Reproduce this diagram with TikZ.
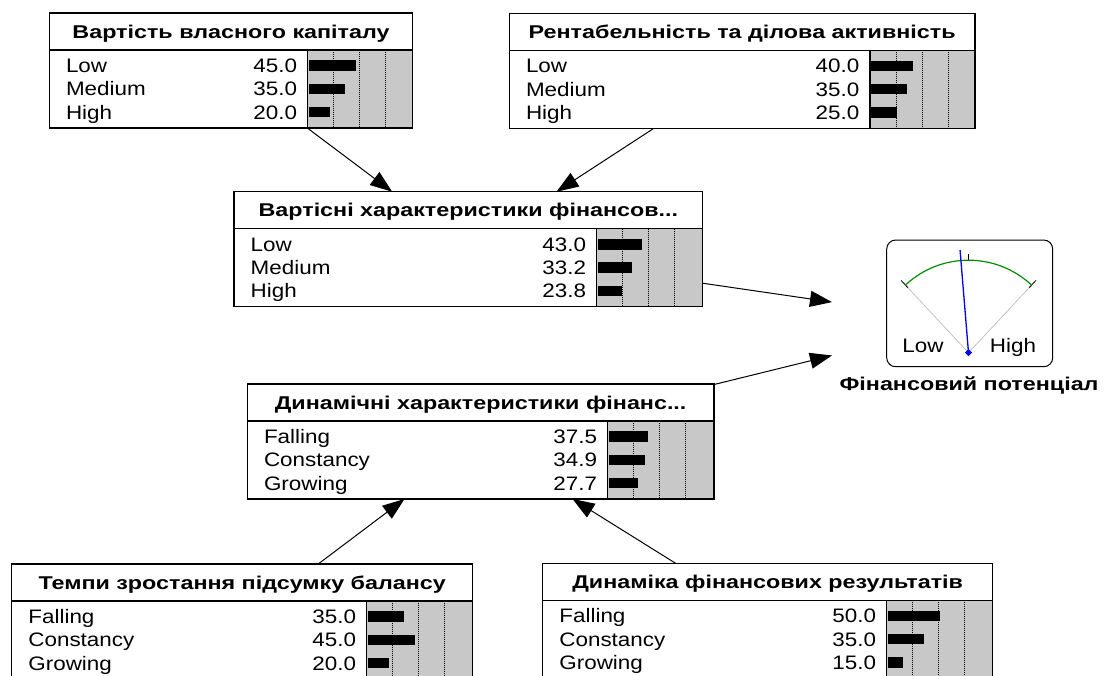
\documentclass[tikz,border=0pt]{standalone}
\usepackage{fontspec}
\setmainfont{Liberation Sans}[FakeStretch=1.15]
\newfontfamily\netTitleFamily{Liberation Sans}[FakeStretch=1.26]
\usetikzlibrary{arrows.meta,calc}

\definecolor{barGray}{RGB}{200,200,200}
\definecolor{rayGray}{RGB}{195,195,195}
\definecolor{arcGreen}{RGB}{0,140,0}

\newcommand\netRowFont{\fontsize{19.5pt}{22pt}\selectfont}
\newcommand\netTitleFont{\netTitleFamily\fontsize{18.5pt}{21pt}\selectfont\bfseries}

\tikzset{
  frameline/.style={line width=1.2pt, draw=black},
  gridline/.style={densely dotted, line width=1pt},
  rowtext/.style={inner sep=0pt, font=\netRowFont},
  titletext/.style={inner sep=0pt, font=\netTitleFont},
  hub/.style={inner sep=0pt, outer sep=0pt},
  link/.style={line width=1pt, -{Triangle[length=22pt,width=16pt]}},
}

% one network node: name, left, top, right, start of the bar area, title
\newcommand\netbox[6]{%
  \def\bxL{#2}\def\bxG{#5}%
  \pgfmathsetmacro\bxH{#3+37}%
  \pgfmathsetmacro\bxB{#3+115}%
  \pgfmathsetmacro\bxW{#4-#2}%
  \node[hub, minimum width=\bxW pt, minimum height=115pt, anchor=north west] (#1) at (#2,#3) {};
  \fill[white] (#2,#3) rectangle (#4,\bxB);
  \fill[barGray] (#5,\bxH) rectangle (#4,\bxB);
  \foreach \p in {25,50,75} \draw[gridline] (#5+\p*1.04,\bxH) -- (#5+\p*1.04,\bxB);
  \draw[frameline] (#2,#3) rectangle (#4,\bxB);
  \draw[frameline] (#2,\bxH) -- (#4,\bxH);
  \draw[frameline] (#5,\bxH) -- (#5,\bxB);
  \node[titletext, anchor=base] (#1-t) at ({(#2+#4)/2},{#3+25.1}) {#6};
}

% one state row: box name, index, label, value, percentage
\newcommand\netrow[5]{%
  \pgfmathsetmacro\ry{\bxH+15.5+23.3*#2}%
  \node[rowtext, anchor=base west] (#1-l#2) at (\bxL+16.5,\ry+7) {#3};
  \node[rowtext, anchor=base east] (#1-v#2) at (\bxG-10.5,\ry+7) {#4};
  \fill (\bxG+1,\ry-5.3) rectangle (\bxG+1+#5*1.04,\ry+5.3);
}

\begin{document}
\begin{tikzpicture}[x=1pt, y=-1pt]
\useasboundingbox (0,0) rectangle (1108,675);

\netbox{vk}{49.3}{13}{412.7}{307.7}{Вартість власного капіталу}
\netrow{vk}{0}{Low}{45.0}{45}
\netrow{vk}{1}{Medium}{35.0}{35}
\netrow{vk}{2}{High}{20.0}{20}

\netbox{rda}{509.3}{13.3}{975}{870}{Рентабельність та ділова активність}
\netrow{rda}{0}{Low}{40.0}{40}
\netrow{rda}{1}{Medium}{35.0}{35}
\netrow{rda}{2}{High}{25.0}{25}

\netbox{vh}{234}{191.7}{702.7}{596.7}{Вартісні характеристики фінансов...}
\netrow{vh}{0}{Low}{43.0}{43}
\netrow{vh}{1}{Medium}{33.2}{33.2}
\netrow{vh}{2}{High}{23.8}{23.8}

\netbox{dh}{247.3}{384}{714}{607.7}{Динамічні характеристики фінанс...}
\netrow{dh}{0}{Falling}{37.5}{37.5}
\netrow{dh}{1}{Constancy}{34.9}{34.9}
\netrow{dh}{2}{Growing}{27.7}{27.7}

\netbox{tz}{11.7}{564}{472.7}{366.7}{Темпи зростання підсумку балансу}
\netrow{tz}{0}{Falling}{35.0}{35}
\netrow{tz}{1}{Constancy}{45.0}{45}
\netrow{tz}{2}{Growing}{20.0}{20}

\netbox{df}{542.7}{563.3}{992.7}{886.7}{Динаміка фінансових результатів}
\netrow{df}{0}{Falling}{50.0}{50}
\netrow{df}{1}{Constancy}{35.0}{35}
\netrow{df}{2}{Growing}{15.0}{15}

% gauge node
\node[hub, minimum width=276pt, minimum height=170pt] (fp) at (970,322) {};
\coordinate (piv) at (968.5,352.7);
\draw[rounded corners=9pt, line width=1pt] (886.7,240) rectangle (1052.7,366.7);
\foreach \a in {47,133} {
  \draw[rayGray, line width=0.8pt] (piv) -- ($(piv)+(\a:92.5pt)$);
  \draw[line width=0.8pt] ($(piv)+(\a:89pt)$) -- ($(piv)+(\a:99pt)$);
}
\draw[line width=0.8pt] ($(piv)+(90:92.5pt)$) -- ($(piv)+(90:99pt)$);
\draw[arcGreen, line width=1.2pt] ($(piv)+(47:92.5pt)$) arc[start angle=47, end angle=133, radius=92.5pt];
\draw[blue, line width=1.3pt] (piv) -- ($(piv)+(94.7:103pt)$);
\fill[blue] (piv) ++(-3.5pt,0pt) -- ++(3.5pt,3.5pt) -- ++(3.5pt,-3.5pt) -- ++(-3.5pt,-3.5pt) -- cycle;
\node[rowtext, anchor=base] (fp-low) at (923,352) {Low};
\node[rowtext, anchor=base] (fp-high) at (1013,352) {High};
\node[titletext, anchor=base] (fp-t) at (969,390.6) {Фінансовий потенціал};

% links between nodes
\draw[link] (vk) -- (vh);
\draw[link] (rda) -- (vh);
\draw[link] (vh) -- (fp);
\draw[link] (dh) -- (fp);
\draw[link] (tz) -- (dh);
\draw[link] (df) -- (dh);
\end{tikzpicture}
\end{document}
